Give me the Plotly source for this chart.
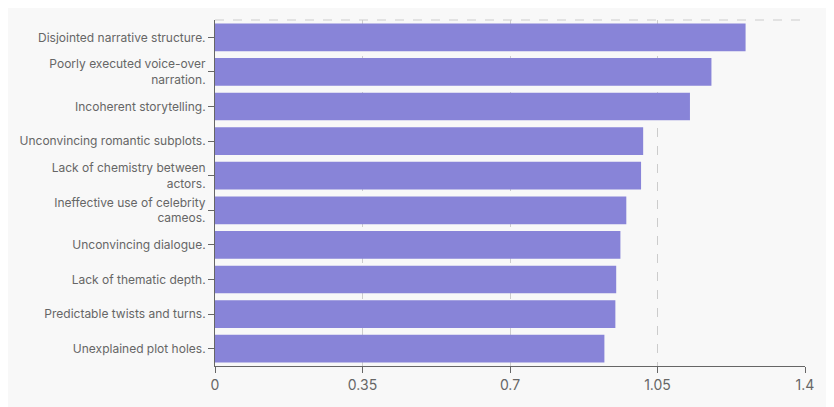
import plotly.graph_objects as go

categories = [
    "Disjointed narrative structure.",
    "Poorly executed voice-over<br>narration.",
    "Incoherent storytelling.",
    "Unconvincing romantic subplots.",
    "Lack of chemistry between<br>actors.",
    "Ineffective use of celebrity<br>cameos.",
    "Unconvincing dialogue.",
    "Lack of thematic depth.",
    "Predictable twists and turns.",
    "Unexplained plot holes.",
]
values = [1.259, 1.178, 1.127, 1.016, 1.011, 0.976, 0.962, 0.952, 0.950, 0.924]
tick_vals = [0, 0.35, 0.7, 1.05, 1.4]

fig = go.Figure()
fig.add_trace(go.Bar(
    x=values, y=categories, orientation="h",
    marker=dict(color="#8884d8", line=dict(width=0)),
    width=0.8,
))

# page body has an 8px margin, so the margins are shifted to compensate
fig.update_layout(
    width=834, height=407,
    margin=dict(l=203, r=37, t=12, b=49),
    paper_bgcolor="#f8f8f8", plot_bgcolor="#f8f8f8",
    font=dict(family="Inter, Roboto, sans-serif", color="#666666"),
    showlegend=False,
)
fig.update_xaxes(
    range=[0, 1.4], tickvals=tick_vals, ticktext=["0", "0.35", "0.7", "1.05", "1.4"],
    showgrid=True, gridcolor="#cccccc", griddash="dash",
    zeroline=False, showline=True, linecolor="#666666",
    ticks="outside", tickcolor="#666666", ticklen=6,
    tickfont=dict(size=14),
)
fig.update_yaxes(
    autorange="reversed", showgrid=False, showline=True, linecolor="#666666",
    ticks="outside", tickcolor="#666666", ticklen=6, tickfont=dict(size=12),
)
fig.add_shape(type="line", xref="paper", yref="paper", x0=0, x1=1, y0=1, y1=1,
              line=dict(color="#cccccc", dash="dash", width=1))

fig.write_html("out.html")
